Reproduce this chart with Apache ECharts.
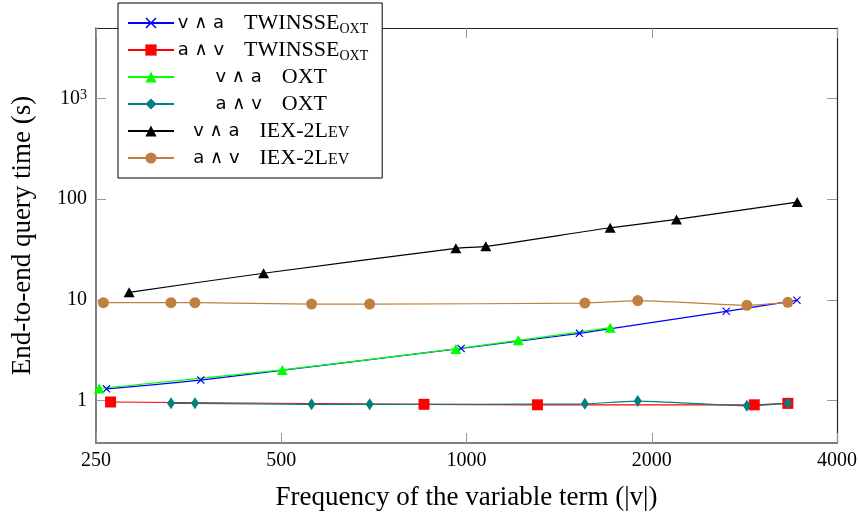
<!DOCTYPE html>
<html>
<head>
<meta charset="utf-8">
<script src="https://cdn.jsdelivr.net/npm/echarts@6/dist/echarts.min.js"></script>
<style>
  html, body { margin: 0; padding: 0; background: #fff; }
  #chart { width: 859px; height: 512px; }
</style>
</head>
<body>
<div id="chart"></div>
<script>
// Frequency of the variable term |v| (x) and end-to-end query time in seconds (y)
const twinVA_x = [260, 370, 980, 1526, 2643, 3443];
const twinVA_y = [1.31, 1.60, 3.30, 4.66, 7.71, 9.91];

const twinAV_x = [264, 853, 1304, 2935, 3328];
const twinAV_y = [0.97, 0.92, 0.91, 0.91, 0.94];

const oxtVA_x = [253, 502, 961, 1214, 1712];
const oxtVA_y = [1.32, 2.02, 3.26, 3.97, 5.30];

const oxtAV_x = [331, 362, 560, 696, 1557, 1898, 2855, 3328];
const oxtAV_y = [0.94, 0.94, 0.92, 0.92, 0.93, 0.99, 0.89, 0.94];

const iexVA_x = [283, 468, 961, 1075, 1712, 2194, 3447];
const iexVA_y = [11.9, 18.4, 32.5, 34.0, 52.0, 63.0, 93.6];

const iexAV_x = [257, 331, 362, 560, 696, 1557, 1898, 2855, 3328];
const iexAV_y = [9.38, 9.38, 9.38, 9.10, 9.10, 9.31, 9.86, 8.84, 9.47];

const xTicks = [250, 500, 1000, 2000, 4000];
const yTicks = [1, 10, 100, 1000];

const pairs = (xs, ys) => xs.map((x, i) => [x, ys[i]]);

const SERIF = 'Liberation Serif';
const SANS = 'DejaVu Sans';
const crossPath = 'path://M0,1L1,0L5,4L9,0L10,1L6,5L10,9L9,10L5,6L1,10L0,9L4,5Z';

// legend captions: operand order in sans, scheme name in roman with subscript / small caps;
// the trailing {b| } keeps every row the same height as the subscripted ones
const legendText = {
  'twinVA': '{s|v}{o| ∧ }{s|a}{g| }{r|TWINSSE}{b|OXT}',
  'twinAV': '{s|a}{o| ∧ }{s|v}{g| }{r|TWINSSE}{b|OXT}',
  'oxtVA':  '{s|v}{o| ∧ }{s|a}{g| }{r|OXT}{b| }',
  'oxtAV':  '{s|a}{o| ∧ }{s|v}{g| }{r|OXT}{b| }',
  'iexVA':  '{s|v}{o| ∧ }{s|a}{g| }{r|IEX-2L}{c|EV}{b| }',
  'iexAV':  '{s|a}{o| ∧ }{s|v}{g| }{r|IEX-2L}{c|EV}{b| }'
};

function line(name, data, color, symbol, size) {
  return {
    name, type: 'line', data,
    symbol, symbolSize: size,
    smooth: 0.2,
    color,
    lineStyle: { color, width: 1.2 },
    itemStyle: { color },
    emphasis: { disabled: true },
    animation: false
  };
}

const tickStyle = { show: true, inside: true, length: 10, lineStyle: { color: '#999', width: 1 } };

const chart = echarts.init(document.getElementById('chart'));
chart.setOption({
  backgroundColor: '#fff',
  animation: false,
  grid: { left: 96, right: 22, top: 28, bottom: 69, outerBoundsMode: 'none' },
  legend: {
    orient: 'vertical',
    left: 118, top: 3,
    padding: [7, 14, 7, 9],
    itemWidth: 46, itemHeight: 14, itemGap: 1,
    borderColor: '#000', borderWidth: 1,
    backgroundColor: '#fff',
    formatter: n => legendText[n],
    textStyle: {
      width: 188, overflow: 'none', color: '#000', lineHeight: 20,
      rich: {
        s: { fontFamily: SANS, fontSize: 18, lineHeight: 20, align: 'center', color: '#000' },
        o: { fontFamily: SANS, fontSize: 18, lineHeight: 20, align: 'center', color: '#000' },
        g: { width: 20, lineHeight: 20, align: 'center' },
        r: { fontFamily: SERIF, fontSize: 22, lineHeight: 20, align: 'center', color: '#000' },
        b: { fontFamily: SERIF, fontSize: 14, lineHeight: 14, padding: [12, 0, 0, 0], align: 'center', color: '#000' },
        c: { fontFamily: SERIF, fontSize: 16, lineHeight: 16, padding: [4, 0, 0, 0], align: 'center', color: '#000' }
      }
    }
  },
  xAxis: [{
    type: 'log', logBase: 2, min: 250, max: 4000, position: 'bottom',
    name: 'Frequency of the variable term (|v|)',
    nameLocation: 'middle', nameGap: 41,
    nameTextStyle: { fontFamily: SERIF, fontSize: 27, color: '#000' },
    axisLine: { show: true, lineStyle: { color: '#555', width: 1.5 } },
    axisTick: Object.assign({ customValues: xTicks }, tickStyle),
    minorTick: { show: false },
    axisLabel: { customValues: xTicks, margin: 8, fontFamily: SERIF, fontSize: 20, color: '#000',
                 formatter: v => String(Math.round(v)) },
    splitLine: { show: false }
  }, {
    type: 'log', logBase: 2, min: 250, max: 4000, position: 'top',
    axisLine: { show: true, lineStyle: { color: '#222', width: 1.2 } },
    axisTick: Object.assign({ customValues: xTicks }, tickStyle),
    axisLabel: { show: false },
    splitLine: { show: false }
  }],
  yAxis: [{
    type: 'log', logBase: 10, min: 0.38, max: 5000, position: 'left',
    name: 'End-to-end query time (s)',
    nameLocation: 'middle', nameGap: 60,
    nameTextStyle: { fontFamily: SERIF, fontSize: 27, color: '#000' },
    axisLine: { show: true, lineStyle: { color: '#555', width: 1.5 } },
    axisTick: Object.assign({ customValues: yTicks }, tickStyle),
    minorTick: { show: false },
    axisLabel: {
      customValues: yTicks, margin: 9, fontFamily: SERIF, fontSize: 20, color: '#000',
      formatter: v => Math.round(v) === 1000 ? '10{sup|3}' : String(Math.round(v)),
      rich: { sup: { fontFamily: SERIF, fontSize: 14, verticalAlign: 'top', lineHeight: 10, color: '#000' } }
    },
    splitLine: { show: false }
  }, {
    type: 'log', logBase: 10, min: 0.38, max: 5000, position: 'right',
    axisLine: { show: true, lineStyle: { color: '#222', width: 1.2 } },
    axisTick: Object.assign({ customValues: yTicks }, tickStyle),
    axisLabel: { show: false },
    splitLine: { show: false }
  }],
  series: [
    line('twinVA', pairs(twinVA_x, twinVA_y), '#0000ff', crossPath, 8),
    line('twinAV', pairs(twinAV_x, twinAV_y), '#ff0000', 'rect', 11),
    line('oxtVA', pairs(oxtVA_x, oxtVA_y), '#00ff00', 'triangle', [11, 10]),
    line('oxtAV', pairs(oxtAV_x, oxtAV_y), '#008080', 'diamond', [8, 12]),
    line('iexVA', pairs(iexVA_x, iexVA_y), '#000000', 'triangle', [11, 10]),
    line('iexAV', pairs(iexAV_x, iexAV_y), '#bf8040', 'circle', 11)
  ]
});
</script>
</body>
</html>
